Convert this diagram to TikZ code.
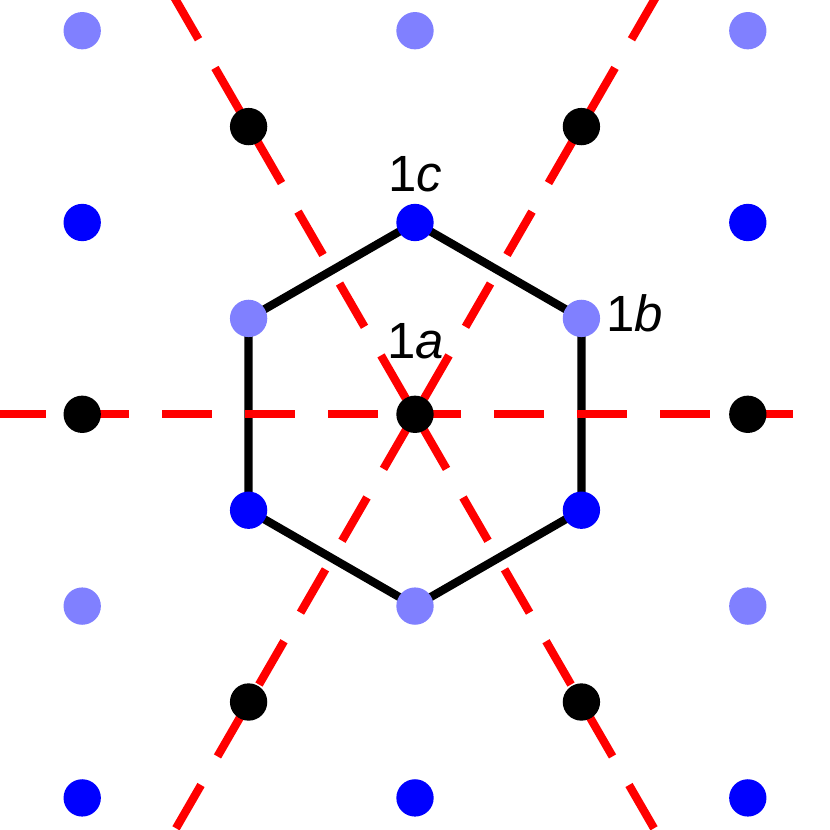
\documentclass[tikz,border=0pt]{standalone}
\usepackage{fontspec}
\setmainfont{Liberation Sans}
\usetikzlibrary{backgrounds}
\definecolor{dotlight}{HTML}{8080FF}
\definecolor{dotblue}{HTML}{0000FF}
\definecolor{axisred}{HTML}{FF0000}
\tikzset{
  dot/.style={circle,minimum size=28pt,inner sep=0pt,outer sep=0pt,draw=none},
  lightdot/.style={dot,fill=dotlight},
  bluedot/.style={dot,fill=dotblue},
  blackdot/.style={dot,fill=black},
  hexedge/.style={draw=black,line width=6.2pt,line join=miter},
  axisline/.style={draw=axisred,line width=6.2pt,dash pattern=on 37.5pt off 24.75pt},
  sitelabel/.style={inner sep=0pt,outer sep=0pt,anchor=base west,text=black,font=\fontsize{38.2pt}{42pt}\selectfont}
}
\begin{document}
\begin{tikzpicture}[x=0.75pt,y=-0.75pt]
\useasboundingbox (0,0) rectangle (830,830);
% lattice sites
\node[lightdot] (l1) at (82.2,30.7) {};
\node[lightdot] (l2) at (415,30.7) {};
\node[lightdot] (l3) at (747.8,30.7) {};
\node[blackdot] (k1) at (248.6,126.6) {};
\node[blackdot] (k2) at (581.4,126.6) {};
\node[bluedot] (b1) at (82.2,222.5) {};
\node[bluedot] (hc) at (415,222.5) {};
\node[bluedot] (b3) at (747.8,222.5) {};
\node[lightdot] (htl) at (248.6,318.4) {};
\node[lightdot] (htr) at (581.4,318.4) {};
\node[blackdot] (k3) at (82.2,414.3) {};
\node[blackdot] (ctr) at (415,414.3) {};
\node[blackdot] (k4) at (747.8,414.3) {};
\node[bluedot] (hbl) at (248.6,510.2) {};
\node[bluedot] (hbr) at (581.4,510.2) {};
\node[lightdot] (l4) at (82.2,606.1) {};
\node[lightdot] (hb) at (415,606.1) {};
\node[lightdot] (l6) at (747.8,606.1) {};
\node[blackdot] (k5) at (248.6,702) {};
\node[blackdot] (k6) at (581.4,702) {};
\node[bluedot] (b4) at (82.2,797.9) {};
\node[bluedot] (b5) at (415,797.9) {};
\node[bluedot] (b6) at (747.8,797.9) {};
% free ends of the axes
\coordinate (al) at (-4,414.3);
\coordinate (ar) at (793,414.3);
\coordinate (atl) at (173.5,-4);
\coordinate (atr) at (656.5,-4);
\coordinate (abl) at (176,828.3);
\coordinate (abr) at (654,828.3);
\begin{pgfonlayer}{background}
  \fill[white] (0,0) rectangle (830,830);
  \draw[hexedge] (hc.center) -- (htr.center) -- (hbr.center) -- (hb.center) -- (hbl.center) -- (htl.center) -- cycle;
  \draw[axisline] (al) -- (ar);
  \draw[axisline] (atl) -- (ctr.center);
  \draw[axisline] (atr) -- (ctr.center);
  \draw[axisline] (abl) -- (ctr.center);
  \draw[axisline] (abr) -- (ctr.center);
\end{pgfonlayer}
% labels
\node[sitelabel] (lc) at (388,191.7) {1\textit{c}};
\node[sitelabel] (la) at (387,358) {1\textit{a}};
\node[sitelabel] (lb) at (606,331) {1\textit{b}};
\end{tikzpicture}
\end{document}
